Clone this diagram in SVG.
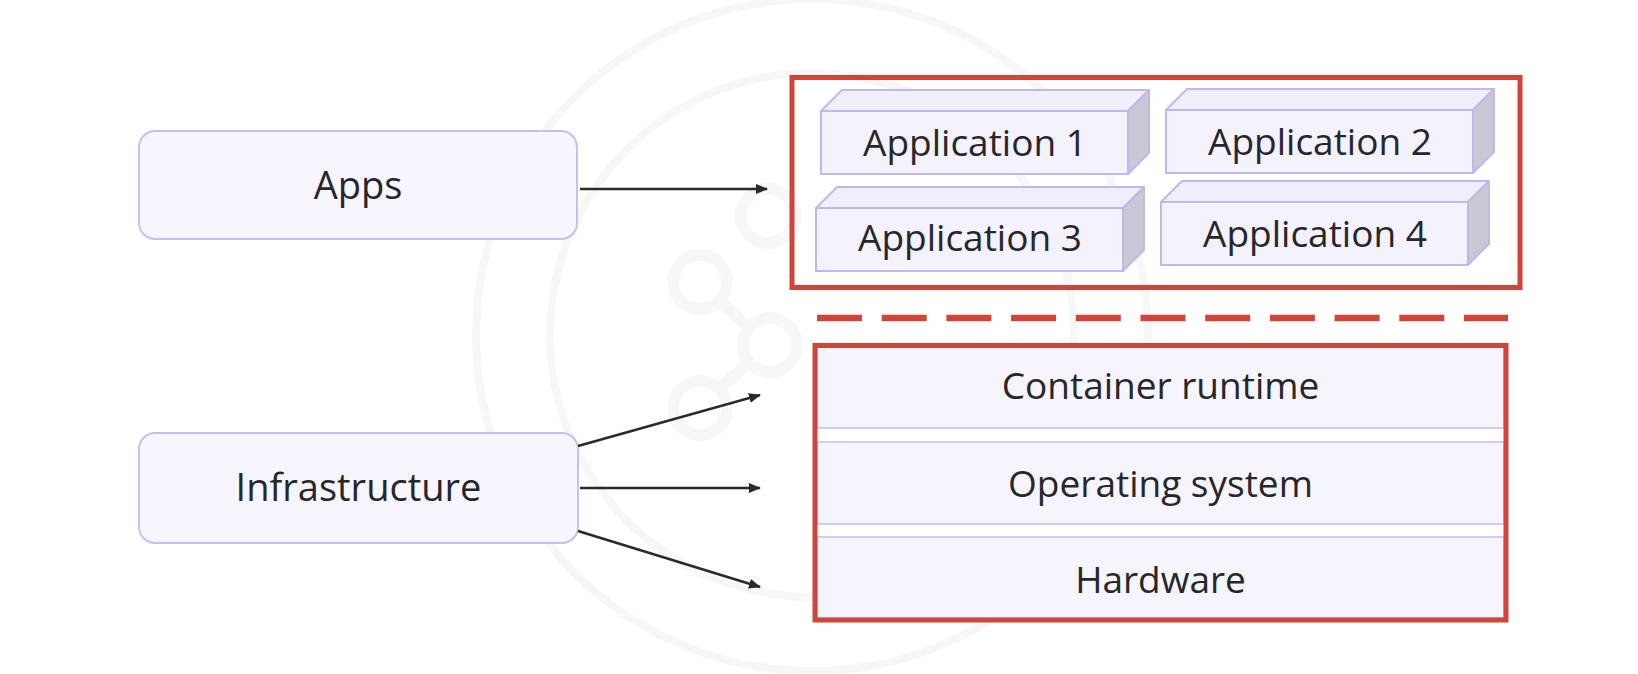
<svg xmlns="http://www.w3.org/2000/svg" xmlns:xlink="http://www.w3.org/1999/xlink" width="1638" height="674" viewBox="0 0 1638 674">
  <style>
    .lbl { font-family: "Open Sans", "Noto Sans", "Liberation Sans", sans-serif; font-size: 37px; fill: #26262b; text-anchor: middle; }
    .big { font-size: 38px; }
    .node { fill: #f7f5fe; stroke: #cbbdef; stroke-width: 2; }
    .front { fill: #f4f2fd; stroke: #c3b6ec; stroke-width: 2; }
    .top { fill: #f1eefb; stroke: #c3b6ec; stroke-width: 2; stroke-linejoin: round; }
    .side { fill: #cbc8d6; stroke: #c3b6ec; stroke-width: 2; stroke-linejoin: round; }
    .frame { fill: none; stroke: #d0453a; stroke-width: 5; }
    .layer { fill: #f6f4fd; stroke: #c8bcef; stroke-width: 1.5; }
    .wm { fill: none; stroke: #f7f7f8; }
    .conn { stroke: #2a2a2a; stroke-width: 2.5; fill: none; marker-end: url(#ah); }
  </style>
  <defs>
    <marker id="ah" viewBox="0 0 12 10" refX="11" refY="5" markerWidth="12" markerHeight="10" markerUnits="userSpaceOnUse" orient="auto">
      <path d="M0,0 L12,5 L0,10 z" fill="#2a2a2a"/>
    </marker>
    <g id="block">
      <polygon class="top" points="0,0 21,-21 328,-21 307,0"/>
      <polygon class="side" points="307,0 328,-21 328,42 307,63"/>
      <rect class="front" x="0" y="0" width="307" height="63"/>
    </g>
  </defs>
  <rect width="1638" height="674" fill="#ffffff"/>

  <g id="watermark">
    <circle class="wm" cx="812" cy="335" r="336" stroke-width="8"/>
    <circle class="wm" cx="812" cy="335" r="262" stroke-width="8"/>
    <circle class="wm" cx="700" cy="282" r="27" stroke-width="12"/>
    <circle class="wm" cx="770" cy="345" r="27" stroke-width="12"/>
    <circle class="wm" cx="700" cy="408" r="27" stroke-width="12"/>
    <circle class="wm" cx="768" cy="216" r="27" stroke-width="12"/>
    <line class="wm" x1="718" y1="300" x2="750" y2="328" stroke-width="12"/>
    <line class="wm" x1="750" y1="362" x2="718" y2="390" stroke-width="12"/>
  </g>

  <g id="apps">
    <rect class="node" x="139" y="131" width="438" height="108" rx="16"/>
    <text class="lbl big" x="358" y="199">Apps</text>
  </g>

  <g id="infrastructure">
    <rect class="node" x="139" y="433" width="439" height="110" rx="16"/>
    <text class="lbl big" x="358.5" y="501">Infrastructure</text>
  </g>

  <g id="app-frame">
    <rect class="frame" x="792" y="77.5" width="728" height="210"/>
  </g>

  <g id="application-1">
    <use xlink:href="#block" href="#block" transform="translate(821,111)"/>
    <text class="lbl" x="975" y="156">Application 1</text>
  </g>
  <g id="application-2">
    <use xlink:href="#block" href="#block" transform="translate(1166,110)"/>
    <text class="lbl" x="1320" y="155">Application 2</text>
  </g>
  <g id="application-3">
    <use xlink:href="#block" href="#block" transform="translate(816,208)"/>
    <text class="lbl" x="970" y="251">Application 3</text>
  </g>
  <g id="application-4">
    <use xlink:href="#block" href="#block" transform="translate(1161,202)"/>
    <text class="lbl" x="1315" y="247">Application 4</text>
  </g>

  <g id="divider">
    <line x1="817" y1="318" x2="1508" y2="318" stroke="#d0453a" stroke-width="6.5" stroke-dasharray="45 19.7"/>
  </g>

  <g id="infra-stack">
    <rect x="815" y="345.5" width="691" height="274.5" fill="#ffffff"/>
    <g id="container-runtime">
      <rect class="layer" x="817" y="347" width="687" height="81"/>
      <text class="lbl" x="1160.5" y="399">Container runtime</text>
    </g>
    <g id="operating-system">
      <rect class="layer" x="817" y="442" width="687" height="82"/>
      <text class="lbl" x="1160.5" y="497">Operating system</text>
    </g>
    <g id="hardware">
      <rect class="layer" x="817" y="537" width="687" height="81"/>
      <text class="lbl" x="1160.5" y="593">Hardware</text>
    </g>
    <rect class="frame" x="815" y="345.5" width="691" height="274.5" stroke-width="5.5"/>
  </g>

  <g id="connectors">
    <line class="conn" x1="580" y1="189" x2="767" y2="189"/>
    <line class="conn" x1="578" y1="446" x2="760" y2="395"/>
    <line class="conn" x1="580" y1="488" x2="760" y2="488"/>
    <line class="conn" x1="578" y1="531" x2="760" y2="587"/>
  </g>
</svg>
